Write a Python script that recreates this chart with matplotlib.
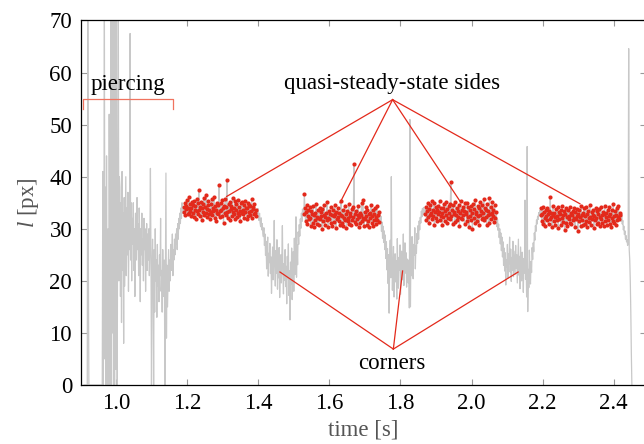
import numpy as np
import matplotlib
matplotlib.use("Agg")
import matplotlib.pyplot as plt

plt.rcParams["font.family"] = ["Liberation Serif", "DejaVu Serif"]
plt.rcParams["mathtext.fontset"] = "custom"
plt.rcParams["mathtext.rm"] = "Liberation Serif"
plt.rcParams["mathtext.it"] = "Liberation Serif:italic"

# ---- measured edge length l [px], split into process phases ----
# each phase: (t_start, t_end) in seconds and the sampled values
piercing_span = (0.910, 1.1885)
piercing = [
    0, 0, 0, 0, 0, 0, 0, 72, 25, 0,
    0, 0, 0, 0, 0, 0, 0, 0, 0, 0,
    0, 0, 0, 0, 0, 0, 0, 0, 0, 0,
    0, 0, 0, 0, 0, 41, 0, 23, 72, 5,
    38, 0, 44, 12, 0, 30, 0, 52, 18, 0,
    72, 0, 72, 10, 72, 0, 60, 0, 72, 3,
    72, 25, 0, 45, 72, 20, 40, 38, 17, 35,
    12, 41, 22, 33, 8, 36, 19, 30, 40, 21,
    34, 25, 37, 18, 31, 26, 67.5, 24, 35, 20,
    32, 27, 35, 22, 30, 17, 33, 28, 24, 36,
    26, 31, 21, 34, 29, 16, 30, 25, 33, 23,
    28, 20, 32, 26, 30, 18, 27, 31, 22, 29,
    24, 30, 21, 27, 41.6, 25, 0, 22, 28, 19,
    0, 26, 14, 30, 20, 24, 13, 27, 19, 23,
    16, 25, 21, 32, 18, 22, 14, 26, 20, 17,
    24, 0, 19, 40.7, 9, 23, 15, 21, 26, 18,
    24, 20, 27, 22, 25, 29, 21, 26, 24, 28,
    25, 29, 27, 30, 26, 31, 28, 32, 30, 33,
    31, 34, 32, 35, 33, 34,
]

side1_span = (1.190, 1.394)
side1 = [
    34.1, 33.2, 35.0, 32.6, 34.4, 33.8, 35.6, 32.9, 34.0, 33.1, 36.2, 33.5, 34.8, 32.4, 33.9, 35.1, 33.0, 34.6, 32.2, 35.4,
    33.7, 34.3, 31.9, 35.8, 33.4, 34.9, 32.8, 37.4, 33.6, 34.2, 32.5, 35.2, 33.9, 31.6, 34.7, 33.3, 35.9, 32.7, 34.1, 33.0,
    36.4, 33.8, 32.3, 34.5, 35.3, 32.9, 33.6, 31.8, 34.8, 33.2, 35.7, 32.6, 34.0, 33.5, 36.1, 32.1, 34.4, 33.7, 31.5, 35.0,
    33.1, 34.6, 32.8, 38.5, 33.4, 32.2, 34.9, 33.6, 35.5, 32.4, 33.9, 31.2, 34.3, 33.0, 35.8, 32.7, 34.1, 39.4, 33.3, 32.0,
    34.7, 33.5, 35.2, 31.7, 33.8, 34.4, 32.5, 36.0, 33.2, 34.0, 32.9, 35.4, 31.9, 33.6, 34.8, 32.3, 33.1, 35.6, 32.6, 34.2,
    33.4, 31.4, 34.9, 33.0, 35.1, 32.8, 33.7, 34.5, 32.1, 35.3, 33.3, 34.0, 31.8, 33.9, 35.0, 32.4, 34.6, 33.2, 32.7, 34.3,
    33.5, 35.7, 32.0, 33.8, 34.1, 32.9, 34.7, 33.1, 33.6, 32.5,
]

corner1_span = (1.396, 1.526)
corner1 = [
    33.5, 32.8, 33.9, 32.2, 31.6, 33.0, 31.2, 30.4, 32.1, 29.8, 31.0, 29.2,
    28.5, 30.2, 26.8, 29.0, 24.9, 27.6, 22.3, 26.1, 28.4, 20.9, 25.3, 23.5, 27.2, 21.4, 24.6, 17.6, 23.0,
    26.5, 20.2, 24.1, 31.6, 22.7, 19.0, 25.8, 21.5, 27.9, 18.4, 23.8, 20.6, 26.4, 16.8, 22.1, 25.0, 19.6,
    24.4, 30.6, 21.0, 17.5, 23.3, 20.1, 26.0,
    18.9, 22.8, 15.6, 24.7, 20.4, 27.1, 17.2, 21.9, 12.5, 23.6, 19.3, 26.3, 16.4, 22.5, 25.6, 18.0, 28.2,
    21.2, 24.0, 32.3, 20.7, 26.9, 23.1, 29.4,
    27.0, 30.8, 28.6, 31.9, 30.1, 33.0, 31.4, 33.8, 32.5,
]

side2_span = (1.528, 1.740)
side2 = [
    32.8, 36.6, 33.9, 31.5, 33.2, 34.6, 30.9, 32.4, 33.7, 31.8, 34.1, 32.0, 30.6, 33.5, 32.9, 31.2, 34.3, 32.6, 30.3, 33.0,
    31.7, 34.8, 32.3, 31.0, 33.6, 32.1, 30.7, 34.0, 31.9, 33.3, 32.5, 29.9, 33.8, 31.4, 32.7, 34.5, 30.8, 32.2, 33.1, 31.6,
    35.1, 32.0, 30.4, 33.4, 31.8, 32.9, 34.2, 31.1, 32.6, 30.5, 33.7, 32.4, 31.3, 34.6, 32.8, 30.1, 33.2, 31.9, 32.3, 34.0,
    31.5, 33.0, 30.8, 32.7, 35.3, 31.2, 32.5, 33.6, 30.6, 32.1, 34.3, 31.7, 32.9, 30.2, 33.5, 31.4, 32.0, 34.8, 31.0, 33.1,
    32.4, 30.7, 33.8, 31.6, 32.2, 34.1, 42.5, 31.3, 32.8, 30.9, 33.4, 31.8, 32.6, 34.4, 30.4, 32.3, 33.0, 31.1, 32.7, 34.9,
    31.5, 35.6, 32.1, 30.6, 33.3, 31.9, 32.5, 34.2, 30.8, 33.6, 31.4, 32.9, 30.3, 33.1, 32.0, 34.6, 31.2, 32.4, 33.7, 30.5,
    32.8, 31.6, 33.9, 32.2, 30.9, 34.3, 31.7, 32.6, 33.2, 31.3,
]

corner2_span = (1.742, 1.868)
corner2 = [
    33.2, 31.0, 32.4, 29.5, 31.3, 28.2, 30.5, 27.4, 29.6, 26.0, 28.8,
    24.3, 27.5, 22.1, 26.2, 19.5, 25.0, 13.8, 23.4, 27.8, 20.6, 40.0, 24.8, 18.2, 22.9, 26.6, 16.9, 21.7, 25.2,
    19.8, 23.9, 16.5, 28.1, 21.3, 18.6, 24.5, 22.0, 26.9, 17.4, 21.9, 25.7, 20.2, 23.1, 29.0, 19.1, 22.6, 27.3,
    21.5, 25.4, 18.8, 24.2, 22.8, 19.6, 24.0, 14.8, 51.0, 15.0, 26.1, 21.0, 28.5, 23.7, 20.4, 27.0, 24.9, 30.2,
    22.3, 26.8,
    25.3, 29.1, 27.2, 30.6, 28.0, 31.5, 29.8, 32.2, 31.1, 33.4, 32.3, 33.9, 32.7, 34.1, 33.0, 33.6,
]

side3_span = (1.870, 2.068)
side3 = [
    32.9, 34.2, 31.6, 33.5, 35.0, 32.3, 33.8, 31.2, 34.6, 32.7, 33.1, 35.3, 31.9, 33.6, 32.4, 34.9, 30.8, 33.2, 34.1, 32.0,
    33.7, 31.5, 34.4, 32.8, 33.3, 35.4, 31.7, 32.5, 34.0, 33.0, 30.7, 33.9, 32.2, 34.7, 31.4, 33.4, 32.6, 35.1, 31.1, 33.8,
    32.1, 34.3, 33.0, 31.8, 34.8, 38.9, 32.4, 33.6, 30.9, 34.5, 32.9, 33.2, 31.3, 35.2, 32.7, 34.0, 31.6, 33.5, 32.3, 34.6,
    30.6, 33.1, 35.3, 32.0, 33.7, 31.9, 34.2, 32.6, 33.4, 31.0, 34.9, 32.8, 33.3, 31.5, 35.0, 32.2, 34.1, 30.4, 33.6, 32.5,
    34.4, 31.7, 33.0, 29.9, 34.7, 32.1, 33.8, 31.2, 35.5, 32.9, 33.2, 31.4, 34.3, 32.4, 33.9, 30.8, 35.1, 32.7, 33.5, 31.8,
    34.6, 32.0, 33.1, 35.8, 31.6, 34.0, 32.3, 33.7, 30.7, 34.8, 32.6, 33.4, 31.1, 36.0, 32.8, 34.2, 31.9, 33.0, 35.2, 32.4,
    33.6, 31.3, 34.5, 32.1, 33.3,
]

corner3_span = (2.070, 2.192)
corner3 = [
    32.6, 30.4, 31.8, 29.7, 30.9, 28.3, 30.0, 27.1, 29.2, 25.8, 28.4, 24.6, 27.5, 23.0, 26.3, 21.9, 25.4,
    19.2, 24.1, 22.6, 27.0, 20.5, 25.2, 23.3, 28.4, 21.7, 26.1, 19.9, 24.5, 22.0, 27.6, 20.8, 25.7, 23.5, 21.2,
    26.8, 22.4, 25.0, 19.6, 23.8, 28.0, 21.1, 24.7, 18.5, 26.5, 22.9, 20.0, 25.5, 23.2, 17.8, 24.3, 21.5, 35.5,
    20.3, 24.0, 16.9, 45.8, 14.1, 22.2, 18.7, 25.9, 21.6, 19.4, 23.7, 21.6, 26.4, 24.1,
    27.3, 25.6, 29.2, 27.8, 30.6, 29.5, 31.7, 30.9, 32.4, 31.8, 33.1, 32.5, 33.5,
]

side4_span = (2.194, 2.418)
side4 = [
    32.6, 33.9, 31.4, 32.9, 34.2, 31.0, 33.3, 32.1, 30.6, 33.7, 32.4, 31.7, 34.0, 32.8, 30.9, 33.5, 31.9, 36.1, 32.3, 33.1,
    30.4, 32.7, 34.3, 31.5, 33.0, 32.2, 30.8, 33.8, 31.6, 32.5, 34.1, 30.2, 33.2, 31.8, 32.9, 33.6, 30.7, 32.0, 34.4, 31.3,
    32.6, 33.4, 29.8, 32.8, 31.1, 33.9, 32.3, 30.5, 33.7, 31.9, 32.4, 34.2, 31.2, 33.0, 30.9, 32.7, 33.5, 31.6, 32.1, 34.0,
    30.3, 33.3, 31.8, 32.5, 33.8, 29.5, 32.9, 31.4, 33.6, 32.2, 30.6, 34.3, 31.7, 32.6, 33.1, 30.8, 33.9, 31.0, 32.4, 34.1,
    31.5, 32.8, 30.4, 33.4, 32.0, 31.3, 34.5, 32.3, 30.7, 33.2, 31.9, 32.7, 33.7, 30.1, 32.5, 31.6, 34.0, 32.1, 30.9, 33.5,
    31.2, 32.9, 33.8, 30.6, 32.2, 34.2, 31.8, 32.6, 31.1, 33.3, 30.5, 32.8, 34.4, 31.4, 32.3, 33.0, 30.8, 33.6, 31.7, 32.4,
    34.1, 31.0, 32.9, 30.3, 33.7, 32.0, 31.5, 34.8, 32.5, 31.2, 33.4, 30.7, 32.7, 33.9, 31.6, 32.2, 34.3, 31.9, 32.6, 33.1,
]

tail_span = (2.4195, 2.451)
tail = [32.5, 31.4, 32.8, 30.9, 31.6, 29.8, 30.5, 28.9, 29.6, 28.0, 28.7, 27.5, 27.9, 26.8, 27.3,
        64.6, 26.0, 24.0, 20.0, 14.0, 6.0, 0.0]

# annotation anchors (time [s], l [px])
sides_apex = (1.778, 54.8)
sides_t = [1.311, 1.630, 1.9675, 2.305]
sides_l = [36.2, 35.0, 35.3, 34.8]
corners_apex = (1.780, 6.9)
corners_t = [1.461, 1.806, 2.131]
corners_l = [21.7, 21.9, 21.7]
piercing_t = (0.908, 1.159)
piercing_l = (54.9, 53.0)

x_ticks = [1.0, 1.2, 1.4, 1.6, 1.8, 2.0, 2.2, 2.4]
y_ticks = [0, 10, 20, 30, 40, 50, 60, 70]

# ---- assemble the time series ----
phases = [(piercing_span, piercing), (side1_span, side1), (corner1_span, corner1),
          (side2_span, side2), (corner2_span, corner2), (side3_span, side3),
          (corner3_span, corner3), (side4_span, side4), (tail_span, tail)]
t_all, l_all = [], []
for (t0, t1), vals in phases:
    t_all.append(np.linspace(t0, t1, len(vals)))
    l_all.append(np.asarray(vals, dtype=float))
t_all = np.concatenate(t_all)
l_all = np.concatenate(l_all)

sides = [(side1_span, side1), (side2_span, side2), (side3_span, side3), (side4_span, side4)]

RED = "#e3291b"
GRAY = "#c8c8c8"
FS = 16.5

fig = plt.figure(figsize=(6.44, 4.44), dpi=100)
ax = fig.add_axes([80.5 / 644, (444 - 385) / 444, (645.5 - 80.5) / 644, (385 - 20.5) / 444])

ax.plot(t_all, l_all, color=GRAY, lw=0.9, zorder=2)
for (t0, t1), vals in sides:
    ax.plot(np.linspace(t0, t1, len(vals)), vals, ls="none", marker="o",
            ms=3.0, mfc=RED, mec="none", zorder=3)

# annotations
for tt, ll in zip(sides_t, sides_l):
    ax.plot([sides_apex[0], tt], [sides_apex[1], ll], color=RED, lw=0.9, zorder=4)
for tt, ll in zip(corners_t, corners_l):
    ax.plot([corners_apex[0], tt], [corners_apex[1], ll], color=RED, lw=0.9, zorder=4)
ax.plot([piercing_t[0], piercing_t[0], piercing_t[1], piercing_t[1]],
        [piercing_l[1], piercing_l[0], piercing_l[0], piercing_l[1]],
        color="#f0735f", lw=0.9, zorder=4)

ax.text(1.777, 56.9, "quasi-steady-state sides", ha="center", va="baseline", fontsize=FS)
ax.text(1.032, 56.7, "piercing", ha="center", va="baseline", fontsize=FS)
ax.text(1.777, 3.0, "corners", ha="center", va="baseline", fontsize=FS)

ax.set_xlim(0.9, 0.9 + (645.5 - 80.5) / 355.5)
ax.set_ylim(0, 70)
ax.set_xticks(x_ticks)
ax.set_xticklabels([f"{v:.1f}" for v in x_ticks])
ax.set_yticks(y_ticks)
ax.tick_params(direction="in", length=4, width=0.8, color="#999999",
               labelsize=FS, top=True, right=True, pad=6)
for s in ax.spines.values():
    s.set_linewidth(0.9)

ax.set_xlabel("time [s]", fontsize=FS, color="#555555", labelpad=4)
ax.set_ylabel("$l$ [px]", fontsize=FS, color="#555555", labelpad=6)

fig.savefig("out.png", dpi=100)
